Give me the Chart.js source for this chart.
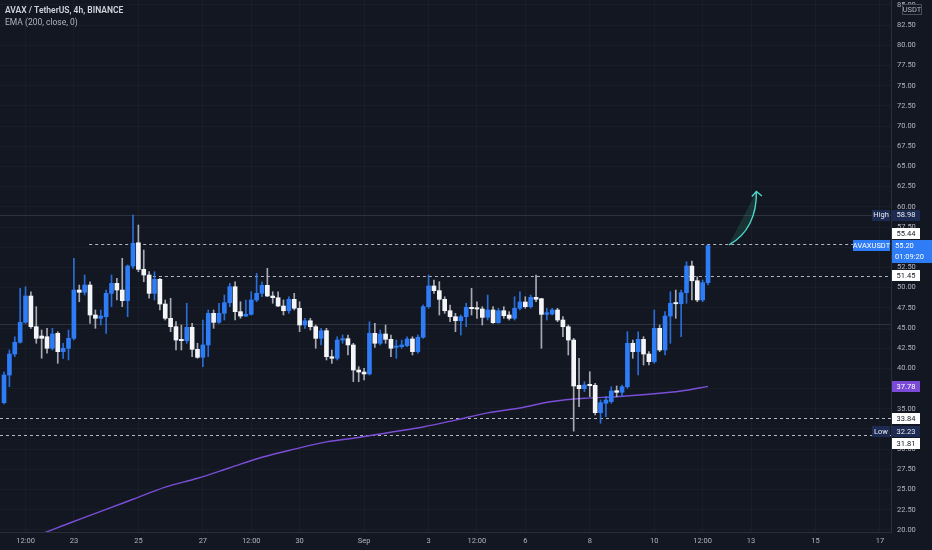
<!DOCTYPE html>
<html>
<head>
<meta charset="utf-8">
<title>AVAXUSDT 4h</title>
<script src="https://cdn.jsdelivr.net/npm/chart.js@4.4.1/dist/chart.umd.min.js"></script>
<style>
    html, body { margin: 0; padding: 0; background: #131722; overflow: hidden; }
    #wrap { position: relative; width: 932px; height: 550px; }
</style>
</head>
<body>
<div id="wrap"><canvas id="avaxChart"></canvas></div>
<script>
// 4h candles, Aug 20 20:00 -> Sep 11 16:00 (index 0..131)
const opens = [35.76, 39.18, 41.78, 43.23, 45.70, 48.96, 45.16, 44.01, 43.92, 42.49,
    44.34, 42.07, 42.49, 43.72, 49.70, 49.42, 50.32, 46.61, 46.20, 46.40,
    49.29, 50.53, 49.70, 48.38, 52.67, 55.55, 52.26, 51.56, 49.29, 51.03,
    47.97, 46.20, 45.16, 43.60, 43.43, 45.09, 42.36, 41.37, 42.90, 46.82,
    45.70, 46.82, 48.13, 50.11, 47.02, 46.48, 46.69, 48.47, 49.29, 50.28,
    48.96, 48.75, 47.72, 47.14, 48.55, 47.44, 45.37, 45.90, 45.16, 43.72,
    44.67, 41.45, 41.25, 43.51, 43.68, 42.90, 39.80, 39.55, 39.31, 44.34,
    43.11, 44.26, 43.60, 42.61, 42.69, 42.81, 43.64, 42.07, 43.85, 47.64,
    50.20, 49.62, 48.55, 47.14, 46.40, 45.90, 46.40, 47.56, 47.51, 47.35,
    46.32, 47.23, 45.66, 47.14, 46.61, 46.20, 47.44, 48.22, 47.64, 48.80,
    48.63, 46.69, 46.73, 47.23, 45.99, 45.16, 43.51, 37.91, 37.49, 38.03,
    37.91, 34.52, 35.68, 35.88, 37.24, 37.04, 37.73, 43.11, 42.07, 43.60,
    41.78, 40.83, 44.96, 42.28, 46.48, 48.15, 48.00, 49.37, 52.67, 50.85,
    48.47, 50.61];
const highs = [39.55, 42.28, 43.92, 49.91, 50.11, 49.49, 47.64, 44.75, 44.96, 44.96,
    44.54, 43.11, 44.75, 53.63, 50.32, 51.56, 50.73, 47.23, 47.23, 49.70,
    51.56, 51.15, 53.63, 52.80, 58.98, 57.75, 54.65, 51.97, 51.97, 51.15,
    48.47, 48.68, 45.78, 45.37, 48.06, 45.58, 43.11, 45.99, 47.23, 47.23,
    48.06, 49.08, 50.53, 50.73, 48.25, 48.47, 49.49, 51.77, 50.73, 52.39,
    49.49, 49.49, 48.47, 48.87, 49.29, 48.25, 46.20, 46.20, 45.37, 44.96,
    44.96, 42.28, 43.92, 44.13, 44.13, 43.11, 40.21, 40.01, 45.78, 45.58,
    44.75, 45.37, 44.13, 43.51, 43.51, 43.92, 43.92, 44.13, 47.85, 51.56,
    50.94, 50.73, 48.87, 47.85, 46.82, 46.61, 48.06, 49.91, 48.25, 47.64,
    49.08, 47.64, 47.44, 47.64, 47.02, 48.87, 49.49, 48.87, 49.08, 51.56,
    48.68, 47.44, 47.44, 47.44, 46.40, 45.37, 43.72, 41.25, 38.35, 39.59,
    38.16, 36.09, 36.50, 37.73, 37.82, 37.95, 44.54, 43.51, 44.54, 43.92,
    42.07, 47.23, 45.37, 47.02, 49.49, 49.70, 49.70, 53.20, 53.29, 51.35,
    50.94, 55.25];
const lows = [35.59, 37.73, 41.45, 43.11, 45.58, 44.96, 43.11, 41.25, 41.87, 42.28,
    40.63, 41.25, 41.04, 43.51, 48.25, 49.08, 45.58, 44.96, 45.37, 44.34,
    47.64, 48.47, 47.64, 46.40, 52.39, 51.97, 50.73, 48.68, 48.47, 47.23,
    45.99, 44.54, 42.28, 42.28, 43.11, 41.45, 41.25, 40.21, 41.45, 44.96,
    45.58, 45.99, 47.64, 45.99, 46.20, 46.40, 46.61, 48.25, 48.87, 48.87,
    48.06, 47.64, 46.61, 46.82, 47.23, 44.54, 44.96, 44.75, 42.49, 42.90,
    41.04, 40.63, 41.04, 43.11, 41.66, 38.35, 38.35, 38.56, 39.18, 42.61,
    42.90, 43.11, 41.45, 41.25, 42.49, 42.69, 41.66, 41.87, 43.72, 47.44,
    49.29, 46.61, 46.82, 45.78, 44.54, 44.13, 45.16, 46.61, 46.20, 45.37,
    45.99, 45.58, 45.58, 46.20, 45.99, 45.99, 47.23, 47.44, 47.44, 48.25,
    42.49, 45.99, 46.61, 45.78, 43.92, 41.66, 32.23, 35.26, 37.12, 36.50,
    34.23, 33.21, 34.02, 35.68, 36.50, 36.50, 37.54, 41.25, 39.18, 40.42,
    40.42, 40.63, 42.07, 41.66, 43.11, 46.20, 43.92, 48.06, 48.47, 48.25,
    48.25, 50.32];
const closes = [39.18, 41.78, 43.23, 45.70, 48.96, 45.16, 43.72, 43.72, 42.49, 44.26,
    42.07, 42.49, 43.72, 49.70, 49.42, 50.32, 46.61, 46.20, 46.48, 49.29,
    50.53, 49.70, 48.38, 52.67, 55.48, 52.26, 51.56, 49.29, 51.03, 47.97,
    46.20, 45.16, 43.51, 43.43, 45.09, 42.36, 41.37, 42.90, 46.82, 45.70,
    46.82, 48.13, 50.11, 47.02, 46.48, 46.69, 48.47, 49.29, 50.28, 48.96,
    48.75, 47.72, 47.14, 48.55, 47.44, 45.37, 45.90, 45.16, 43.72, 44.67,
    41.45, 41.25, 43.51, 43.68, 42.90, 39.80, 39.55, 39.31, 44.34, 43.11,
    44.26, 43.60, 42.49, 42.77, 42.90, 43.64, 42.07, 43.85, 47.64, 50.20,
    49.62, 48.55, 47.14, 46.40, 45.90, 46.40, 47.56, 47.39, 47.35, 46.32,
    47.23, 45.66, 47.14, 46.52, 46.20, 47.44, 48.22, 47.64, 48.80, 48.55,
    46.69, 46.89, 47.23, 45.99, 45.16, 43.51, 37.82, 37.49, 37.95, 37.86,
    34.52, 35.76, 36.09, 37.20, 37.04, 37.73, 43.11, 42.07, 43.60, 41.78,
    40.83, 44.96, 42.28, 46.48, 48.06, 48.00, 49.37, 52.67, 50.85, 48.47,
    50.61, 55.20];

const emaIndex = [0, 6, 12, 18, 24, 30, 36, 42, 48, 54, 60, 66, 72, 78, 84, 90, 96, 102, 108, 114, 120, 126, 131];
const emaValues = [18.1, 19.3, 20.8, 22.3, 23.8, 25.3, 26.4, 27.7, 29.0, 30.0, 30.9, 31.45, 32.1, 32.75, 33.6, 34.5, 35.1, 35.9, 36.3, 36.5, 36.8, 37.2, 37.78];

// time axis labels (bar index -> text)
const tickIndex = [4, 13, 25, 37, 46, 55, 67, 79, 88, 97, 109, 121, 130, 139, 151, 163];
const tickText = ['12:00', '23', '25', '27', '12:00', '30', 'Sep', '3', '12:00', '6', '8', '10', '12:00', '13', '15', '17'];

// drawn horizontal levels
const dashedLevels = [55.44, 51.45, 33.84, 31.81];
const dashedFrom = [15.85, 27.7, -1, -1];
const solidLevels = [58.98, 45.5];

const highValue = 58.98;
const lowValue = 32.23;
const emaLast = 37.78;
const lastPrice = 55.20;
const countdown = '01:09:20';

// arrow path in (bar index, price)
const arrowPath = [[134.9, 55.3], [138.4, 56.5], [140.1, 59.0], [140.0, 61.9]];

const BG = '#131722';
const UP = '#2e7cf6';
const DOWN = '#f4f5f8';
const FONT = 'Roboto, "Liberation Sans", sans-serif';

function box(ctx, x, yc, w, h, bg, text, color, align) {
    ctx.fillStyle = bg;
    ctx.fillRect(x, Math.round(yc - h / 2), w, h);
    ctx.fillStyle = color;
    ctx.textBaseline = 'middle';
    ctx.textAlign = align || 'center';
    const tx = align === 'left' ? x + 3 : x + w / 2;
    ctx.fillText(text, tx, yc + 0.5);
}

const overlay = {
    id: 'overlay',
    beforeDraw(chart) {
        const ctx = chart.ctx;
        ctx.save();
        ctx.fillStyle = BG;
        ctx.fillRect(0, 0, chart.width, chart.height);
        ctx.restore();
    },
    beforeDatasetsDraw(chart) {
        const ctx = chart.ctx;
        const xs = chart.scales.x, ys = chart.scales.y;
        const area = chart.chartArea;
        ctx.save();
        ctx.lineWidth = 1;
        ctx.strokeStyle = 'rgba(120,123,134,0.28)';
        solidLevels.forEach(function (v) {
            const y = Math.round(ys.getPixelForValue(v)) + 0.5;
            ctx.beginPath();
            ctx.moveTo(area.left, y);
            ctx.lineTo(area.right, y);
            ctx.stroke();
        });
        ctx.setLineDash([3, 3]);
        ctx.strokeStyle = 'rgba(210,212,220,0.85)';
        dashedLevels.forEach(function (v, i) {
            const y = Math.round(ys.getPixelForValue(v)) + 0.5;
            const x0 = Math.max(area.left, xs.getPixelForValue(dashedFrom[i]));
            ctx.beginPath();
            ctx.moveTo(x0, y);
            ctx.lineTo(area.right, y);
            ctx.stroke();
        });
        ctx.restore();
    },
    afterDatasetsDraw(chart) {
        const ctx = chart.ctx;
        const xs = chart.scales.x, ys = chart.scales.y;
        const p = arrowPath.map(function (d) { return [xs.getPixelForValue(d[0]), ys.getPixelForValue(d[1])]; });
        ctx.save();
        ctx.beginPath();
        ctx.moveTo(p[0][0], p[0][1]);
        ctx.bezierCurveTo(p[1][0], p[1][1], p[2][0], p[2][1], p[3][0], p[3][1]);
        ctx.closePath();
        ctx.fillStyle = 'rgba(60,190,150,0.16)';
        ctx.fill();
        ctx.beginPath();
        ctx.moveTo(p[0][0], p[0][1]);
        ctx.bezierCurveTo(p[1][0], p[1][1], p[2][0], p[2][1], p[3][0], p[3][1]);
        ctx.strokeStyle = '#4fd6c8';
        ctx.lineWidth = 1.4;
        ctx.stroke();
        const tip = p[3];
        ctx.beginPath();
        ctx.moveTo(tip[0] - 4.5, tip[1] + 5);
        ctx.lineTo(tip[0], tip[1]);
        ctx.lineTo(tip[0] + 5.5, tip[1] + 4.5);
        ctx.stroke();
        ctx.restore();
    },
    afterDraw(chart) {
        const ctx = chart.ctx;
        const ys = chart.scales.y;
        const area = chart.chartArea;
        const ax = area.right + 1;
        ctx.save();
        ctx.font = '7.5px ' + FONT;

        // fixed labels first, movable ones are pushed off them
        const yLast = ys.getPixelForValue(lastPrice);
        const yHigh = ys.getPixelForValue(highValue);
        const yLow = ys.getPixelForValue(lowValue);
        const yEma = ys.getPixelForValue(emaLast);
        const fixed = [[yLast - 5.5, yLast + 17.5], [yLow - 5.5, yLow + 5.5],
            [yHigh - 5.5, yHigh + 5.5], [yEma - 5.5, yEma + 5.5]];

        dashedLevels.forEach(function (v) {
            let yc = ys.getPixelForValue(v);
            fixed.forEach(function (f) {
                if (yc + 5.5 > f[0] && yc - 5.5 < f[1]) {
                    yc = (yc < (f[0] + f[1]) / 2) ? f[0] - 6.5 : f[1] + 6.5;
                }
            });
            box(ctx, ax, yc, 28, 11, '#ffffff', v.toFixed(2), '#131722');
        });

        box(ctx, ax, yHigh, 28, 11, '#1d2b52', highValue.toFixed(2), '#e8eaf0');
        box(ctx, area.right - 19, yHigh, 18, 11, '#1d2b52', 'High', '#e8eaf0');
        box(ctx, ax, yLow, 28, 11, '#1d2b52', lowValue.toFixed(2), '#e8eaf0');
        box(ctx, area.right - 19, yLow, 18, 11, '#1d2b52', 'Low', '#e8eaf0');
        box(ctx, ax, yEma, 28, 11, '#7b4bd8', emaLast.toFixed(2), '#ffffff');

        ctx.fillStyle = UP;
        ctx.fillRect(ax, Math.round(yLast - 5.5), chart.width - ax, 23);
        ctx.fillStyle = '#ffffff';
        ctx.textAlign = 'left';
        ctx.textBaseline = 'middle';
        ctx.fillText(lastPrice.toFixed(2), ax + 3, yLast + 0.5);
        ctx.fillText(countdown, ax + 3, yLast + 11.5);
        box(ctx, area.right - 38, yLast, 37, 11, UP, 'AVAXUSDT', '#ffffff');

        // currency tag
        ctx.fillStyle = BG;
        ctx.fillRect(ax + 10, 4, 20, 11);
        ctx.strokeStyle = '#4a4e5a';
        ctx.lineWidth = 1;
        ctx.strokeRect(ax + 10.5, 4.5, 19, 10);
        ctx.fillStyle = '#b2b5be';
        ctx.textAlign = 'center';
        ctx.fillText('USDT', ax + 20, 10);

        // legend text
        ctx.textAlign = 'left';
        ctx.fillStyle = '#d1d4dc';
        ctx.font = '600 8.5px ' + FONT;
        ctx.fillText('AVAX / TetherUS, 4h, BINANCE', 5, 11);
        ctx.fillStyle = '#b2b5be';
        ctx.font = '8.5px ' + FONT;
        ctx.fillText('EMA (200, close, 0)', 5, 23);
        ctx.restore();
    }
};

document.addEventListener('DOMContentLoaded', function () {
    const canvas = document.getElementById('avaxChart');
    if (!canvas) {
        console.error('Canvas element avaxChart not found');
        return;
    }
    const ctx = canvas.getContext('2d');

    const bodies = opens.map(function (o, i) { return { x: i, y: [o, closes[i]] }; });
    const wicks = opens.map(function (o, i) { return { x: i, y: [lows[i], highs[i]] }; });
    const bodyColors = opens.map(function (o, i) { return closes[i] >= o ? UP : DOWN; });
    const wickColors = opens.map(function (o, i) { return closes[i] >= o ? 'rgba(46,124,246,0.85)' : 'rgba(205,208,216,0.8)'; });
    const ema = emaIndex.map(function (x, i) { return { x: x, y: emaValues[i] }; });

    canvas.chart = new Chart(ctx, {
        type: 'bar',
        data: {
            datasets: [{
                label: 'body',
                data: bodies,
                backgroundColor: bodyColors,
                barThickness: 4,
                minBarLength: 1,
                grouped: false,
                order: 0
            }, {
                label: 'wick',
                data: wicks,
                backgroundColor: wickColors,
                barThickness: 1,
                grouped: false,
                order: 1
            }, {
                type: 'line',
                label: 'EMA (200, close, 0)',
                data: ema,
                borderColor: '#7a4ed6',
                borderWidth: 1.4,
                pointRadius: 0,
                cubicInterpolationMode: 'monotone',
                order: 2
            }]
        },
        options: {
            responsive: true,
            maintainAspectRatio: false,
            animation: false,
            layout: { padding: 0 },
            scales: {
                x: {
                    type: 'linear',
                    offset: false,
                    min: -0.75,
                    max: 165.05,
                    afterBuildTicks: function (scale) {
                        scale.ticks = tickIndex.map(function (v) { return { value: v }; });
                    },
                    afterFit: function (scale) {
                        scale.height = 18;
                        scale.paddingLeft = 0;
                        scale.paddingRight = 0;
                    },
                    ticks: {
                        autoSkip: false,
                        maxRotation: 0,
                        padding: 5,
                        color: '#b2b5be',
                        font: { family: FONT, size: 7.5 },
                        callback: function (value, index) { return tickText[index]; }
                    },
                    grid: { color: 'rgba(42,46,57,0.25)', drawTicks: false, offset: false },
                    border: { color: '#2a2e39' }
                },
                y: {
                    type: 'linear',
                    position: 'right',
                    min: 19.75,
                    max: 85.6,
                    afterFit: function (scale) {
                        scale.width = 41;
                        scale.paddingTop = 0;
                        scale.paddingBottom = 0;
                    },
                    ticks: {
                        stepSize: 2.5,
                        includeBounds: false,
                        autoSkip: false,
                        padding: 6,
                        color: '#b2b5be',
                        font: { family: FONT, size: 7.5 },
                        callback: function (v) { return Number(v).toFixed(2); }
                    },
                    grid: { color: 'rgba(42,46,57,0.25)', drawTicks: false },
                    border: { color: '#2a2e39' }
                }
            },
            plugins: {
                legend: { display: false },
                tooltip: { enabled: false }
            }
        },
        plugins: [overlay]
    });
    console.log('Chart initialized successfully');
});
</script>
</body>
</html>
